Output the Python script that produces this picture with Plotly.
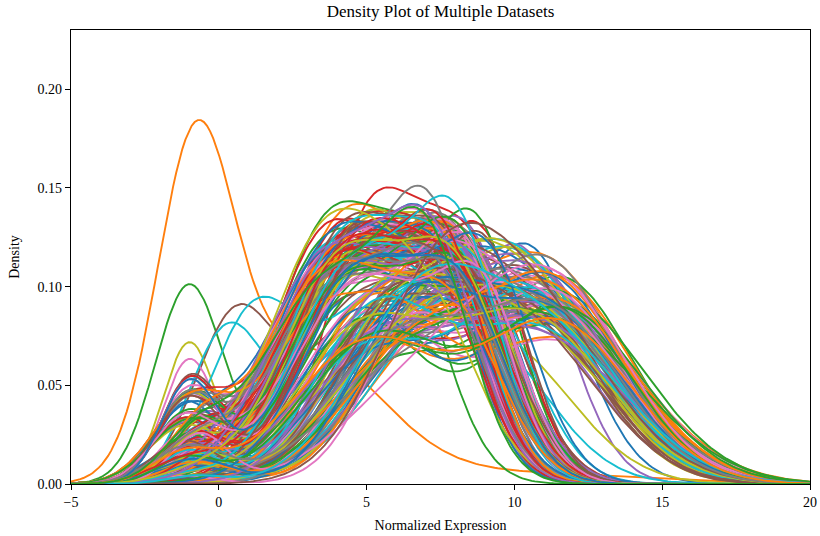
import numpy as np
import plotly.graph_objects as go

# ---------------- chart text / axes ----------------
TITLE = "Density Plot of Multiple Datasets"
X_LABEL = "Normalized Expression"
Y_LABEL = "Density"
X_RANGE = [-5, 20]
Y_RANGE = [0, 0.23]
X_TICKS = [-5, 0, 5, 10, 15, 20]
Y_TICKS = [0.00, 0.05, 0.10, 0.15, 0.20]

# matplotlib tab10 colour cycle
PALETTE = ["#1f77b4", "#ff7f0e", "#2ca02c", "#d62728", "#9467bd",
           "#8c564b", "#e377c2", "#7f7f7f", "#bcbd22", "#17becf"]

# ---------------- curve parameters ----------------
# Each dataset = low-expression bump near -1 + two broad main components.
# Parameter lists are combined cyclically.
N_A = 110          # datasets with a plateau at ~4-8 that end near 12
N_B = 90           # datasets centred at ~8-10 with a long tail to ~18

BUMP_MU = [-1.0, -0.8, -1.15, -0.65]
BUMP_SD = [0.95, 1.1, 1.25]

A_MU1 = [4.4, 3.9, 4.9, 4.2, 4.7, 3.7, 5.1, 4.5, 4.0, 4.8, 4.3, 4.6, 3.8]
A_SD1 = [2.1, 1.95, 2.25, 2.05, 2.2, 1.95, 2.15, 2.3, 2.0, 2.1, 2.2]
A_GAP = [3.6, 3.4, 3.9, 3.5, 4.1, 3.7, 3.45, 4.0, 3.8]
A_SD2 = [1.5, 1.45, 1.65, 1.55, 1.45, 1.7, 1.6]
A_BUMP = [0.04, 0.00, 0.09, 0.02, 0.12, 0.06, 0.01, 0.07]
A_FRAC2 = [0.38, 0.34, 0.42, 0.36, 0.40]

B_MU1 = [6.0, 5.2, 6.6, 5.6, 6.9, 4.8, 6.3, 5.4, 7.2, 5.9, 6.5, 5.0, 6.1]
B_SD1 = [2.2, 2.5, 2.0, 2.35, 2.1, 2.6, 2.25, 1.9, 2.4, 2.05, 2.3]
B_MU2 = [10.8, 11.3, 10.4, 11.0, 11.6, 10.2, 11.1, 10.6, 11.4]
B_SD2 = [2.6, 2.4, 2.8, 2.5, 2.9, 2.55, 2.7]
B_BUMP = [0.03, 0.00, 0.06, 0.01, 0.04]
B_FRAC2 = [0.60, 0.54, 0.66, 0.58]

# Distinct curves (position in the colour cycle given by S_POS)
S_POS    = [0,    1,    2,    3,    4,    5,    6,    7,    8,    11,   14,   19,   29]
S_BUMP_W = [0.00, 0.53, 0.29, 0.00, 0.00, 0.30, 0.14, 0.00, 0.16, 0.00, 0.03, 0.32, 0.25]
S_BUMP_M = [-1.0, -0.8, -1.0, -1.0, -1.0, 0.6, -1.0, -1.0, -1.0, -1.0, -1.0, 1.2, 0.3]
S_BUMP_S = [1.00, 1.30, 1.15, 1.00, 1.00, 1.40, 0.90, 1.00, 0.90, 1.00, 0.95, 1.50, 1.30]
S_MU1    = [4.8,  3.0,  4.0,  5.0,  6.0,  4.8,  4.5,  6.5,  5.0,  3.9,  3.5,  5.0,  5.0]
S_SD1    = [2.2,  2.5,  1.6,  1.5,  2.2,  1.8,  1.9,  2.0,  2.0,  1.8,  1.9,  1.8,  2.0]
S_MU2    = [10.4, 10.0, 6.3,  8.3,  10.4, 8.0,  8.0,  10.5, 9.5,  7.4,  7.0,  8.0,  9.0]
S_SD2    = [1.85, 4.0,  1.5,  1.8,  1.6,  1.8,  1.9,  2.5,  2.4,  2.1,  2.2,  1.8,  2.2]
S_FRAC2  = [0.55, 0.12, 0.50, 0.55, 0.42, 0.50, 0.50, 0.50, 0.50, 0.50, 0.55, 0.50, 0.50]


def gauss(x, mu, sd):
    return np.exp(-0.5 * ((x - mu) / sd) ** 2) / (sd * np.sqrt(2 * np.pi))


def density(x, bw, bm, bs, m1, s1, m2, s2, f2):
    main = (1 - f2) * gauss(x, m1, s1) + f2 * gauss(x, m2, s2)
    return bw * gauss(x, bm, bs) + (1 - bw) * main


def pick(lst, i):
    return lst[i % len(lst)]


a_params = []
for i in range(N_A):
    m1 = pick(A_MU1, i)
    a_params.append((pick(A_BUMP, i), pick(BUMP_MU, i), pick(BUMP_SD, i),
                     m1, pick(A_SD1, i), m1 + pick(A_GAP, i), pick(A_SD2, i),
                     pick(A_FRAC2, i)))
b_params = []
for i in range(N_B):
    b_params.append((pick(B_BUMP, i), pick(BUMP_MU, i + 1), pick(BUMP_SD, i + 2),
                     pick(B_MU1, i), pick(B_SD1, i), pick(B_MU2, i), pick(B_SD2, i),
                     pick(B_FRAC2, i)))
s_params = list(zip(S_BUMP_W, S_BUMP_M, S_BUMP_S, S_MU1, S_SD1, S_MU2, S_SD2, S_FRAC2))

n_total = len(a_params) + len(b_params) + len(s_params)
special = dict(zip(S_POS, s_params))
curves = []
ai = bi = 0
for pos in range(n_total):
    if pos in special:
        curves.append(special[pos])
    elif bi >= len(b_params) or (ai < len(a_params) and ai * N_B <= bi * N_A):
        curves.append(a_params[ai]); ai += 1
    else:
        curves.append(b_params[bi]); bi += 1

grid = np.linspace(X_RANGE[0], X_RANGE[1], 240)

fig = go.Figure()
for i, p in enumerate(curves):
    fig.add_trace(go.Scatter(
        x=grid, y=np.round(density(grid, *p), 6), mode="lines",
        line=dict(color=PALETTE[i % 10], width=1.9),
        hoverinfo="skip", showlegend=False))

FONT = "Liberation Serif"
axis_common = dict(
    showline=True, linecolor="black", linewidth=1.2, mirror=True,
    ticks="outside", ticklen=5, tickwidth=1.1, tickcolor="black",
    showgrid=False, zeroline=False, automargin=False,
    tickfont=dict(family=FONT, size=14, color="black"),
)
fig.update_layout(
    width=820, height=536,
    margin=dict(l=71, r=10, t=30, b=52),
    paper_bgcolor="white", plot_bgcolor="white",
    showlegend=False,
    title=dict(text=TITLE, x=0.5, xref="paper", xanchor="center",
               y=1 - 11 / 536, yref="container", yanchor="middle",
               font=dict(family=FONT, size=17, color="black")),
    xaxis=dict(range=X_RANGE, tickvals=X_TICKS,
               title=dict(text=X_LABEL, standoff=11,
                          font=dict(family=FONT, size=14, color="black")),
               **axis_common),
    yaxis=dict(range=Y_RANGE, tickvals=Y_TICKS, tickformat=".2f",
               title=dict(text=Y_LABEL, standoff=14,
                          font=dict(family=FONT, size=14, color="black")),
               **axis_common),
)

fig.write_html("out.html")
